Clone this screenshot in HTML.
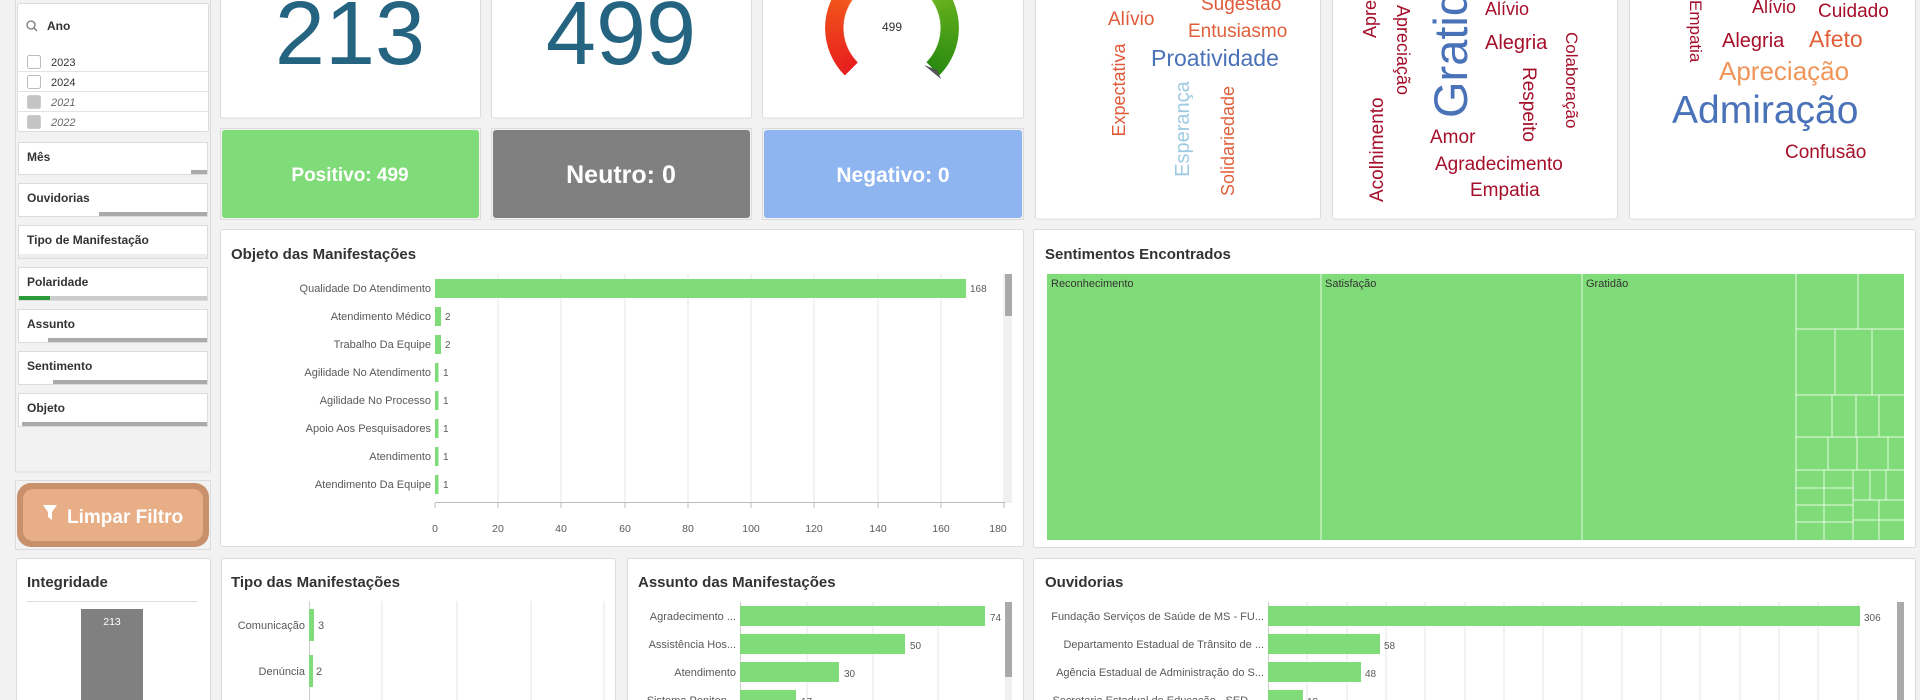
<!DOCTYPE html>
<html><head><meta charset="utf-8"><style>
html,body{margin:0;padding:0;width:1920px;height:700px;overflow:hidden;background:#f2f2f2;font-family:"Liberation Sans",sans-serif}
.abs{position:absolute}
#gauge{left:825px;top:-39px;width:134px;height:134px;border-radius:50%;
background:conic-gradient(from -135deg,#e61e1e 0deg,#f04a1c 60deg,#f5761b 110deg,#f29a1a 135deg,#8cc425 160deg,#58a81a 210deg,#2a8a10 270deg,transparent 270deg);
-webkit-mask:radial-gradient(circle,transparent 48px,#000 49px);mask:radial-gradient(circle,transparent 48px,#000 49px)}
</style></head><body>
<svg class="abs" style="left:0;top:0" width="1920" height="700" xmlns="http://www.w3.org/2000/svg" font-family="Liberation Sans, sans-serif">
<rect width="1920" height="700" fill="#f2f2f2"/>
<!-- left filter panel -->
<rect x="15.5" y="-2" width="195" height="474" fill="#f2f2f2" stroke="#dcdcdc"/>
<rect x="17.5" y="3.5" width="191" height="128" fill="#fff" stroke="#dcdcdc" rx="2"/>
<circle cx="31" cy="25" r="4" fill="none" stroke="#777" stroke-width="1.3"/><line x1="34" y1="28" x2="37" y2="31" stroke="#777" stroke-width="1.3"/>
<text x="47" y="30" font-size="12" font-weight="bold" fill="#333">Ano</text>
<g font-size="11" fill="#333">
<line x1="18" y1="71.5" x2="208" y2="71.5" stroke="#e3e3e3"/><line x1="18" y1="91.5" x2="208" y2="91.5" stroke="#e3e3e3"/><line x1="18" y1="111.5" x2="208" y2="111.5" stroke="#e3e3e3"/>
<rect x="27.5" y="55.5" width="13" height="13" rx="2" fill="#fff" stroke="#bbb"/><text x="51" y="66">2023</text>
<rect x="27.5" y="75.5" width="13" height="13" rx="2" fill="#fff" stroke="#bbb"/><text x="51" y="86">2024</text>
<rect x="27.5" y="95.5" width="13" height="13" rx="2" fill="#c4c4c4" stroke="#ccc"/><text x="51" y="106" font-style="italic" fill="#666">2021</text>
<rect x="27.5" y="115.5" width="13" height="13" rx="2" fill="#c4c4c4" stroke="#ccc"/><text x="51" y="126" font-style="italic" fill="#666">2022</text>
</g>
<g font-size="12" font-weight="bold" fill="#333">
<rect x="18.5" y="142.5" width="189" height="32" fill="#fff" stroke="#dcdcdc"/><text x="27" y="161">Mês</text><rect x="19" y="170" width="172" height="4" fill="#fff"/><rect x="191" y="170" width="16" height="4" fill="#aaa"/>
<rect x="18.5" y="183.5" width="189" height="33" fill="#fff" stroke="#dcdcdc"/><text x="27" y="202">Ouvidorias</text><rect x="99" y="212" width="108" height="4" fill="#aaa"/>
<rect x="18.5" y="225.5" width="189" height="33" fill="#fff" stroke="#dcdcdc"/><text x="27" y="244">Tipo de Manifestação</text><rect x="19" y="254" width="188" height="4" fill="#eee"/>
<rect x="18.5" y="267.5" width="189" height="33" fill="#fff" stroke="#dcdcdc"/><text x="27" y="286">Polaridade</text><rect x="19" y="296" width="188" height="4" fill="#ccc"/><rect x="19" y="296" width="31" height="4" fill="#2a9a3a"/>
<rect x="18.5" y="309.5" width="189" height="33" fill="#fff" stroke="#dcdcdc"/><text x="27" y="328">Assunto</text><rect x="48" y="338" width="159" height="4" fill="#aaa"/>
<rect x="18.5" y="351.5" width="189" height="33" fill="#fff" stroke="#dcdcdc"/><text x="27" y="370">Sentimento</text><rect x="53" y="380" width="154" height="4" fill="#aaa"/>
<rect x="18.5" y="393.5" width="189" height="33" fill="#fff" stroke="#dcdcdc"/><text x="27" y="412">Objeto</text><rect x="22" y="422" width="185" height="4" fill="#aaa"/>
</g>
<!-- Limpar filtro -->
<rect x="15.5" y="480.5" width="195" height="69" fill="#f2f2f2" stroke="#dcdcdc"/>
<rect x="17" y="483" width="192" height="64" rx="14" fill="#c8916c"/>
<rect x="23" y="489" width="180" height="52" rx="10" fill="#e8ae86"/>
<path d="M43 505 L57 505 L52 512 L52 520 L48 517 L48 512 Z" fill="#fff"/>
<text x="67" y="523" font-size="19" font-weight="bold" fill="#fff">Limpar Filtro</text>
<!-- KPI cards -->
<rect x="220.5" y="-2" width="260" height="120" fill="#fff" stroke="#dcdcdc" rx="2"/>
<rect x="491.5" y="-2" width="260" height="120" fill="#fff" stroke="#dcdcdc" rx="2"/>
<rect x="762.5" y="-2" width="261" height="120" fill="#fff" stroke="#dcdcdc" rx="2"/>
<text x="350" y="64" font-size="90" fill="#246480" text-anchor="middle">213</text>
<text x="621" y="64" font-size="90" fill="#246480" text-anchor="middle">499</text>
<!-- status -->
<rect x="220.5" y="128.5" width="260" height="91" fill="#f2f2f2" stroke="#dcdcdc"/>
<rect x="222" y="130" width="257" height="88" rx="3" fill="#80dc78"/>
<text x="350" y="181" font-size="19" font-weight="bold" fill="#fff" text-anchor="middle">Positivo: 499</text>
<rect x="491.5" y="128.5" width="260" height="91" fill="#f2f2f2" stroke="#dcdcdc"/>
<rect x="493" y="130" width="257" height="88" rx="3" fill="#808080"/>
<text x="621" y="183" font-size="25" font-weight="bold" fill="#fff" text-anchor="middle">Neutro: 0</text>
<rect x="762.5" y="128.5" width="261" height="91" fill="#f2f2f2" stroke="#dcdcdc"/>
<rect x="764" y="130" width="258" height="88" rx="3" fill="#8fb5f0"/>
<text x="893" y="182" font-size="21" font-weight="bold" fill="#fff" text-anchor="middle">Negativo: 0</text>
<!-- word cloud cards -->
<rect x="1035.5" y="-2" width="285" height="221" fill="#fff" stroke="#dcdcdc" rx="2"/>
<rect x="1332.5" y="-2" width="285" height="221" fill="#fff" stroke="#dcdcdc" rx="2"/>
<rect x="1629.5" y="-2" width="286" height="221" fill="#fff" stroke="#dcdcdc" rx="2"/>
<g font-family="Liberation Sans Narrow, Liberation Sans, sans-serif">
<text x="1201" y="10" font-size="19" fill="#e05a3a">Sugestão</text>
<text x="1108" y="25" font-size="19" fill="#e05a3a">Alívio</text>
<text x="1188" y="37" font-size="19" fill="#e0603a">Entusiasmo</text>
<text x="1151" y="66" font-size="23" fill="#4a72b8">Proatividade</text>
<text transform="translate(1125,90) rotate(-90)" font-size="18" fill="#e05a3a" text-anchor="middle" font-family="Liberation Sans, sans-serif">Expectativa</text>
<text transform="translate(1189,129) rotate(-90)" font-size="20" fill="#9ecae1" text-anchor="middle" font-family="Liberation Sans, sans-serif">Esperança</text>
<text transform="translate(1234,141) rotate(-90)" font-size="18" fill="#e0603a" text-anchor="middle" font-family="Liberation Sans, sans-serif">Solidariedade</text>
<text transform="translate(1376,38) rotate(-90)" font-size="18" fill="#a50f2a" font-family="Liberation Sans, sans-serif">Apre</text>
<text transform="translate(1397,5) rotate(90)" font-size="18" fill="#a50f2a" font-family="Liberation Sans, sans-serif">Apreciação</text>
<text transform="translate(1467,118) rotate(-90)" font-size="47" fill="#4a72b8" font-family="Liberation Sans, sans-serif">Gratid</text>
<text x="1485" y="15" font-size="18" fill="#a50f2a">Alívio</text>
<text x="1485" y="49" font-size="20" fill="#a50f2a">Alegria</text>
<text transform="translate(1566,32) rotate(90)" font-size="17" fill="#a50f2a" font-family="Liberation Sans, sans-serif">Colaboração</text>
<text transform="translate(1523,67) rotate(90)" font-size="19" fill="#a50f2a" font-family="Liberation Sans, sans-serif">Respeito</text>
<text transform="translate(1383,202) rotate(-90)" font-size="19" fill="#a50f2a" font-family="Liberation Sans, sans-serif">Acolhimento</text>
<text x="1430" y="143" font-size="19" fill="#a50f2a">Amor</text>
<text x="1435" y="170" font-size="19" fill="#a50f2a">Agradecimento</text>
<text x="1470" y="196" font-size="19" fill="#a50f2a">Empatia</text>
<text transform="translate(1690,0) rotate(90)" font-size="17" fill="#a50f2a" font-family="Liberation Sans, sans-serif">Empatia</text>
<text x="1752" y="13" font-size="18" fill="#a50f2a">Alívio</text>
<text x="1818" y="17" font-size="19" fill="#a50f2a">Cuidado</text>
<text x="1722" y="47" font-size="20" fill="#a50f2a">Alegria</text>
<text x="1809" y="47" font-size="23" fill="#e0603a">Afeto</text>
<text x="1719" y="80" font-size="26" fill="#f0955a">Apreciação</text>
<text x="1672" y="123" font-size="39" fill="#4a72b8">Admiração</text>
<text x="1785" y="158" font-size="19" fill="#a50f2a">Confusão</text>
</g>
<!-- Objeto chart -->
<rect x="220.5" y="229.5" width="803" height="317" fill="#fff" stroke="#dcdcdc" rx="2"/>
<text x="231" y="259" font-size="15" font-weight="bold" fill="#333">Objeto das Manifestações</text>
<g stroke="#e6e6e6">
<line x1="498" y1="274" x2="498" y2="502"/><line x1="561" y1="274" x2="561" y2="502"/><line x1="625" y1="274" x2="625" y2="502"/><line x1="688" y1="274" x2="688" y2="502"/><line x1="751" y1="274" x2="751" y2="502"/><line x1="814" y1="274" x2="814" y2="502"/><line x1="878" y1="274" x2="878" y2="502"/><line x1="941" y1="274" x2="941" y2="502"/><line x1="1004" y1="274" x2="1004" y2="502"/>
</g>
<line x1="435" y1="502.5" x2="1005" y2="502.5" stroke="#bbb"/>
<g stroke="#bbb"><line x1="435" y1="503" x2="435" y2="508"/><line x1="498" y1="503" x2="498" y2="508"/><line x1="561" y1="503" x2="561" y2="508"/><line x1="625" y1="503" x2="625" y2="508"/><line x1="688" y1="503" x2="688" y2="508"/><line x1="751" y1="503" x2="751" y2="508"/><line x1="814" y1="503" x2="814" y2="508"/><line x1="878" y1="503" x2="878" y2="508"/><line x1="941" y1="503" x2="941" y2="508"/><line x1="1004" y1="503" x2="1004" y2="508"/></g>
<g font-size="10.5" fill="#595959" text-anchor="middle">
<text x="435" y="532">0</text><text x="498" y="532">20</text><text x="561" y="532">40</text><text x="625" y="532">60</text><text x="688" y="532">80</text><text x="751" y="532">100</text><text x="814" y="532">120</text><text x="878" y="532">140</text><text x="941" y="532">160</text><text x="998" y="532">180</text>
</g>
<rect x="1005" y="274" width="7" height="229" fill="#f0f0f0"/><rect x="1005" y="274" width="7" height="42" fill="#aaa"/>
<g fill="#80dc78">
<rect x="435" y="279" width="531" height="19"/><rect x="435" y="307" width="6" height="19"/><rect x="435" y="335" width="6" height="19"/><rect x="435" y="363" width="3.5" height="19"/><rect x="435" y="391" width="3.5" height="19"/><rect x="435" y="419" width="3.5" height="19"/><rect x="435" y="447" width="3.5" height="19"/><rect x="435" y="475" width="3.5" height="19"/>
</g>
<g font-size="11" fill="#595959" text-anchor="end">
<text x="431" y="292">Qualidade Do Atendimento</text><text x="431" y="320">Atendimento Médico</text><text x="431" y="348">Trabalho Da Equipe</text><text x="431" y="376">Agilidade No Atendimento</text><text x="431" y="404">Agilidade No Processo</text><text x="431" y="432">Apoio Aos Pesquisadores</text><text x="431" y="460">Atendimento</text><text x="431" y="488">Atendimento Da Equipe</text>
</g>
<g font-size="10" fill="#595959">
<text x="970" y="292">168</text><text x="445" y="320">2</text><text x="445" y="348">2</text><text x="443" y="376">1</text><text x="443" y="404">1</text><text x="443" y="432">1</text><text x="443" y="460">1</text><text x="443" y="488">1</text>
</g>
<!-- Sentimentos treemap -->
<rect x="1033.5" y="229.5" width="882" height="318" fill="#fff" stroke="#dcdcdc" rx="2"/>
<text x="1045" y="259" font-size="15" font-weight="bold" fill="#333">Sentimentos Encontrados</text>
<rect x="1047" y="274" width="857" height="266" fill="#80dc78"/>
<g stroke="#fff" stroke-opacity="0.8" stroke-width="1">
<line x1="1321" y1="274" x2="1321" y2="540"/><line x1="1582" y1="274" x2="1582" y2="540"/><line x1="1796" y1="274" x2="1796" y2="540"/>
<line x1="1796" y1="329" x2="1904" y2="329"/><line x1="1858" y1="274" x2="1858" y2="329"/>
<line x1="1796" y1="395" x2="1904" y2="395"/><line x1="1835" y1="329" x2="1835" y2="395"/><line x1="1872" y1="329" x2="1872" y2="395"/>
<line x1="1796" y1="437" x2="1904" y2="437"/><line x1="1832" y1="395" x2="1832" y2="437"/><line x1="1856" y1="395" x2="1856" y2="437"/><line x1="1879" y1="395" x2="1879" y2="437"/>
<line x1="1796" y1="470" x2="1904" y2="470"/><line x1="1828" y1="437" x2="1828" y2="470"/><line x1="1857" y1="437" x2="1857" y2="470"/><line x1="1888" y1="437" x2="1888" y2="470"/>
<line x1="1824" y1="470" x2="1824" y2="540"/><line x1="1853" y1="470" x2="1853" y2="540"/>
<line x1="1796" y1="488" x2="1853" y2="488"/><line x1="1796" y1="505" x2="1853" y2="505"/><line x1="1796" y1="522" x2="1853" y2="522"/>
<line x1="1870" y1="470" x2="1870" y2="500"/><line x1="1886" y1="470" x2="1886" y2="500"/>
<line x1="1853" y1="500" x2="1904" y2="500"/><line x1="1853" y1="520" x2="1904" y2="520"/><line x1="1879" y1="500" x2="1879" y2="540"/>
</g>
<g font-size="11" fill="#333">
<text x="1051" y="287">Reconhecimento</text><text x="1325" y="287">Satisfação</text><text x="1586" y="287">Gratidão</text>
</g>
<!-- Bottom row -->
<rect x="16.5" y="558.5" width="194" height="150" fill="#fff" stroke="#dcdcdc" rx="2"/>
<text x="27" y="587" font-size="15" font-weight="bold" fill="#333">Integridade</text>
<line x1="27" y1="601.5" x2="197" y2="601.5" stroke="#ddd"/>
<rect x="81" y="609" width="62" height="100" fill="#808080"/>
<text x="112" y="625" font-size="10.5" fill="#fff" text-anchor="middle">213</text>

<rect x="221.5" y="558.5" width="394" height="150" fill="#fff" stroke="#dcdcdc" rx="2"/>
<text x="231" y="587" font-size="15" font-weight="bold" fill="#333">Tipo das Manifestações</text>
<g stroke="#e6e6e6"><line x1="382" y1="601" x2="382" y2="700"/><line x1="457" y1="601" x2="457" y2="700"/><line x1="531" y1="601" x2="531" y2="700"/><line x1="604" y1="601" x2="604" y2="700"/></g>
<line x1="309.5" y1="601" x2="309.5" y2="700" stroke="#ccc"/>
<rect x="309" y="609" width="5" height="32" fill="#80dc78"/><rect x="309" y="655" width="4" height="32" fill="#80dc78"/>
<g font-size="11" fill="#595959"><text x="305" y="629" text-anchor="end">Comunicação</text><text x="305" y="675" text-anchor="end">Denúncia</text><text x="318" y="629">3</text><text x="316" y="675">2</text></g>

<rect x="627.5" y="558.5" width="396" height="150" fill="#fff" stroke="#dcdcdc" rx="2"/>
<text x="638" y="587" font-size="15" font-weight="bold" fill="#333">Assunto das Manifestações</text>
<g stroke="#e6e6e6"><line x1="807" y1="602" x2="807" y2="700"/><line x1="873" y1="602" x2="873" y2="700"/><line x1="938" y1="602" x2="938" y2="700"/></g>
<line x1="740.5" y1="602" x2="740.5" y2="700" stroke="#ccc"/>
<g fill="#80dc78"><rect x="740" y="606" width="245" height="20"/><rect x="740" y="634" width="165" height="20"/><rect x="740" y="662" width="99" height="20"/><rect x="740" y="690" width="56" height="20"/></g>
<g font-size="11" fill="#595959" text-anchor="end"><text x="736" y="620">Agradecimento ...</text><text x="736" y="648">Assistência Hos...</text><text x="736" y="676">Atendimento</text><text x="736" y="704">Sistema Peniten...</text></g>
<g font-size="10" fill="#595959"><text x="990" y="621">74</text><text x="910" y="649">50</text><text x="844" y="677">30</text><text x="801" y="705">17</text></g>
<rect x="1005" y="602" width="7" height="98" fill="#f0f0f0"/><rect x="1005" y="602" width="7" height="75" fill="#aaa"/>

<rect x="1033.5" y="558.5" width="882" height="150" fill="#fff" stroke="#dcdcdc" rx="2"/>
<text x="1045" y="587" font-size="15" font-weight="bold" fill="#333">Ouvidorias</text>
<g stroke="#e6e6e6"><line x1="1307" y1="602" x2="1307" y2="700"/><line x1="1347" y1="602" x2="1347" y2="700"/><line x1="1386" y1="602" x2="1386" y2="700"/><line x1="1425" y1="602" x2="1425" y2="700"/><line x1="1465" y1="602" x2="1465" y2="700"/><line x1="1504" y1="602" x2="1504" y2="700"/><line x1="1543" y1="602" x2="1543" y2="700"/><line x1="1582" y1="602" x2="1582" y2="700"/><line x1="1622" y1="602" x2="1622" y2="700"/><line x1="1661" y1="602" x2="1661" y2="700"/><line x1="1700" y1="602" x2="1700" y2="700"/><line x1="1740" y1="602" x2="1740" y2="700"/><line x1="1779" y1="602" x2="1779" y2="700"/><line x1="1818" y1="602" x2="1818" y2="700"/><line x1="1858" y1="602" x2="1858" y2="700"/></g>
<line x1="1268.5" y1="602" x2="1268.5" y2="700" stroke="#ccc"/>
<g fill="#80dc78"><rect x="1268" y="606" width="592" height="20"/><rect x="1268" y="634" width="112" height="20"/><rect x="1268" y="662" width="93" height="20"/><rect x="1268" y="690" width="35" height="20"/></g>
<g font-size="11" fill="#595959" text-anchor="end"><text x="1264" y="620">Fundação Serviços de Saúde de MS - FU...</text><text x="1264" y="648">Departamento Estadual de Trânsito de ...</text><text x="1264" y="676">Agência Estadual de Administração do S...</text><text x="1264" y="704">Secretaria Estadual de Educação - SED -...</text></g>
<g font-size="10" fill="#595959"><text x="1864" y="621">306</text><text x="1384" y="649">58</text><text x="1365" y="677">48</text><text x="1307" y="705">18</text></g>
<rect x="1897" y="602" width="7" height="98" fill="#aaa"/>
</svg>
<div id="gauge" class="abs"></div>
<svg class="abs" style="left:800px;top:0" width="200" height="110">
<polygon points="124,65 141,79 137,70" fill="#555"/>
<text x="92" y="31" font-size="12" fill="#333" text-anchor="middle" font-family="Liberation Sans, sans-serif">499</text>
</svg>
</body></html>
